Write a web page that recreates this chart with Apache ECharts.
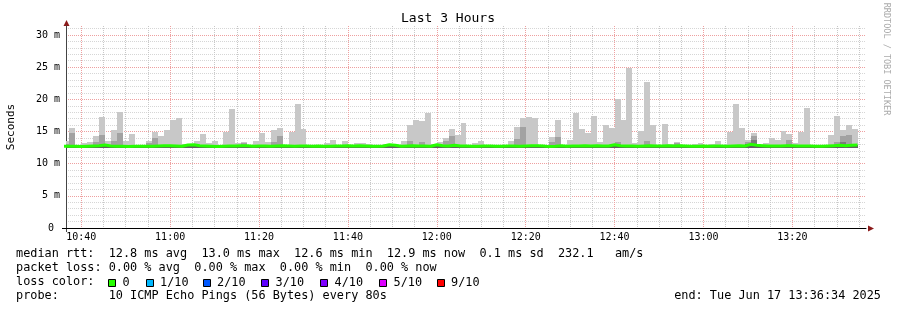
<!DOCTYPE html>
<html><head><meta charset="utf-8">
<script src="https://cdn.jsdelivr.net/npm/echarts@6/dist/echarts.min.js"></script>
<style>html,body{margin:0;padding:0;background:#fff}#c{width:897px;height:310px}</style>
</head><body><div id="c"></div>
<script>
// ---- time layout (seconds since midnight) ----
const viewStartTime = '10:36:34';
const viewEndTime = '13:36:34';
const firstBarStart = '10:36:00';
const barStepSec = 80;
const timeLabels = ['10:40','11:00','11:20','11:40','12:00','12:20','12:40','13:00','13:20'];
const yTickValues = [0, 5, 10, 15, 20, 25, 30];
const yTickLabels = ['0 ', '5 m', '10 m', '15 m', '20 m', '25 m', '30 m'];

// ---- data (ms), one value per 80 s bucket ----
const medianRtt = [
 12.7,12.7,12.65,12.7,12.75,12.8,12.9,12.75,12.7,12.7,
 12.65,12.7,12.7,12.7,12.7,12.75,12.8,12.8,12.75,12.7,
 12.9,12.95,12.8,12.75,12.7,12.65,12.7,12.75,12.75,12.8,
 12.8,12.7,12.75,12.75,12.7,12.75,12.8,12.75,12.7,12.75,
 12.75,12.7,12.75,12.7,12.7,12.75,12.75,12.8,12.75,12.8,
 12.75,12.7,12.7,12.75,12.95,12.85,12.7,12.75,12.8,12.75,
 12.75,12.7,12.95,12.8,12.75,12.85,12.75,12.75,12.7,12.7,
 12.75,12.75,12.7,12.7,12.75,12.75,12.7,12.75,12.8,12.8,
 12.75,12.65,12.7,12.8,12.7,12.75,12.75,12.8,12.75,12.8,
 12.75,12.75,12.95,12.8,12.75,12.75,12.7,12.75,12.8,12.75,
 12.75,12.8,12.75,12.8,12.75,12.7,12.7,12.75,12.7,12.75,
 12.75,12.7,12.75,12.8,12.75,13.0,12.85,12.8,12.75,12.75,
 12.75,12.8,12.8,12.75,12.75,12.75,12.7,12.7,12.75,12.8,
 12.85,12.8,12.85,12.9
];
const smokeMax = [
 13.6,15.5,12.9,13.2,13.4,14.3,17.3,13.5,15.2,18.0,
 13.6,14.6,12.9,12.9,13.5,14.9,14.3,15.2,16.8,17.1,
 13.0,13.0,13.5,14.6,13.2,13.5,12.9,14.9,18.5,13.2,
 13.3,12.9,13.5,14.8,13.4,15.2,15.5,12.9,15.0,19.3,
 15.4,12.9,12.9,12.9,13.2,13.7,12.9,13.5,12.9,13.2,
 13.2,13.0,12.9,12.9,13.1,13.0,12.9,13.5,16.0,16.8,
 16.6,17.9,13.0,13.4,14.0,15.4,14.5,16.3,12.9,13.2,
 13.5,12.9,12.9,12.9,12.9,13.5,15.7,17.1,17.2,17.1,
 12.9,12.9,14.1,16.8,12.9,13.7,17.9,15.4,14.8,17.4,
 13.4,16.0,15.5,20.1,16.8,24.9,13.2,15.1,22.7,16.0,
 12.9,16.2,13.0,13.4,12.9,12.9,13.0,13.2,12.9,13.0,
 13.5,12.9,14.9,19.3,15.5,13.7,14.8,12.9,13.2,14.0,
 13.7,15.1,14.6,13.2,14.9,18.7,12.9,12.9,12.9,14.5,
 17.4,15.2,16.0,15.4
];
const N = null;
const smokeMid = [
 13.1,14.7,N,N,N,13.4,14.5,N,13.5,14.8,
 N,N,N,N,13.2,14.0,N,N,N,N,
 N,N,N,N,N,N,N,N,N,N,
 13.2,N,N,N,N,13.4,14.3,N,N,N,
 N,N,N,N,N,N,N,N,N,N,
 N,N,N,N,N,N,N,N,13.5,N,
 13.4,N,N,N,13.5,14.3,N,N,N,N,
 N,N,N,N,N,N,13.8,15.7,N,N,
 N,N,13.4,14.1,N,N,N,N,N,N,
 N,N,N,13.4,N,N,N,N,13.5,N,
 N,N,N,13.2,N,N,N,N,N,N,
 N,N,N,N,N,13.3,14.3,N,N,N,
 N,N,13.7,N,N,N,N,N,N,N,
 13.4,14.3,14.5,N
];
const smokeCore = [
 N,N,N,N,N,N,N,N,N,N, N,N,N,N,N,N,N,N,N,N, N,N,N,N,N,N,N,N,N,N,
 N,N,N,N,N,N,N,N,N,N, N,N,N,N,N,N,N,N,N,N, N,N,N,N,N,N,N,N,N,N,
 N,N,N,N,N,N,N,N,N,N, N,N,N,N,N,N,N,N,N,N, N,N,N,N,N,N,N,N,N,N,
 N,N,N,N,N,N,N,N,N,N, N,N,N,N,N,N,N,N,N,N, N,N,N,N,N,13.1,13.7,N,N,N,
 N,N,N,N,N,N,N,N,N,N, N,13.4,N,N
];
const smokeMin = [
 12.5,12.5,12.5,12.5,12.5,12.38,12.38,12.5,12.5,12.5,
 12.5,12.5,12.5,12.5,12.5,12.5,12.5,12.5,12.5,12.38,
 12.5,12.5,12.5,12.5,12.5,12.5,12.5,12.5,12.5,12.5,
 12.5,12.5,12.5,12.5,12.5,12.5,12.5,12.5,12.5,12.5,
 12.5,12.38,12.5,12.5,12.5,12.5,12.5,12.5,12.5,12.5,
 12.5,12.38,12.5,12.5,12.5,12.5,12.5,12.5,12.5,12.5,
 12.5,12.5,12.5,12.5,12.5,12.5,12.5,12.38,12.5,12.5,
 12.5,12.5,12.5,12.5,12.5,12.5,12.5,12.5,12.5,12.38,
 12.5,12.5,12.5,12.5,12.5,12.5,12.5,12.5,12.5,12.5,
 12.5,12.5,12.5,12.5,12.5,12.5,12.38,12.5,12.5,12.5,
 12.5,12.5,12.5,12.5,12.5,12.5,12.5,12.5,12.38,12.5,
 12.5,12.5,12.5,12.5,12.5,12.5,12.5,12.5,12.38,12.5,
 12.5,12.5,12.38,12.5,12.5,12.5,12.5,12.5,12.5,12.5,
 12.5,12.5,12.5,12.5
];

// ---- legend texts ----
const legendRtt = 'median rtt:  12.8 ms avg  13.0 ms max  12.6 ms min  12.9 ms now  0.1 ms sd  232.1   am/s';
const legendLoss = 'packet loss: 0.00 % avg  0.00 % max  0.00 % min  0.00 % now';
const legendLossColorTitle = 'loss color:';
const lossLabels = ['0', '1/10', '2/10', '3/10', '4/10', '5/10', '9/10'];
const lossColors = ['#26ff00', '#00b8ff', '#0059ff', '#5e00ff', '#7e00ff', '#dd00ff', '#ff0000'];
const legendProbe = 'probe:       10 ICMP Echo Pings (56 Bytes) every 80s';
const legendEnd = 'end: Tue Jun 17 13:36:34 2025';
const chartTitle = 'Last 3 Hours';
const yAxisTitle = 'Seconds';
const watermark = 'RRDTOOL / TOBI OETIKER';

// ---- build ----
function toSec(s) { const p = s.split(':').map(Number); return p[0]*3600 + p[1]*60 + (p[2] || 0); }
function fmt(v) { const h = Math.floor(v/3600), m = Math.floor((v%3600)/60); return String(h).padStart(2,'0') + ':' + String(m).padStart(2,'0'); }
const t0 = toSec(viewStartTime), t1 = toSec(viewEndTime), b0 = toSec(firstBarStart);
const majorVals = timeLabels.map(toSec);
const minorVals = [];
for (let v = Math.ceil(t0/300)*300; v <= t1; v += 300) if (majorVals.indexOf(v) < 0) minorVals.push(v);
const starts = medianRtt.map((_, i) => b0 + i*barStepSec);

function band(lowArr, highArr) {
  const out = [];
  for (let i = 0; i < highArr.length; i++) {
    if (highArr[i] == null || lowArr[i] == null) continue;
    out.push([starts[i], starts[i] + barStepSec, lowArr[i], highArr[i]]);
  }
  return out;
}
function bandSeries(name, data, color, z) {
  return {
    type: 'custom', name, data, z, silent: true, clip: true,
    encode: { x: [0, 1], y: [2, 3] },
    renderItem(params, api) {
      const a = api.coord([api.value(0), api.value(3)]);
      const b = api.coord([api.value(1), api.value(2)]);
      const x0 = Math.round(a[0]), x1 = Math.round(b[0]);
      const y0 = Math.round(a[1]), y1 = Math.round(b[1]);
      const cs = params.coordSys;
      const shape = echarts.graphic.clipRectByRect(
        { x: x0, y: y0, width: x1 - x0, height: y1 - y0 },
        { x: cs.x, y: cs.y, width: cs.width, height: cs.height });
      if (!shape) return null;
      return { type: 'rect', shape, style: { fill: color } };
    }
  };
}
const medLine = medianRtt.map((v, i) => [starts[i], v]);
medLine.push([starts[starts.length-1] + barStepSec, medianRtt[medianRtt.length-1]]);

const MONO = '"DejaVu Sans Mono", monospace';
const LF = '11.85px ' + MONO;
const gridGrayH = { color: '#d6d6d6', type: [1, 1], width: 1 };
const gridGrayV = { color: '#c8c8c8', type: [1, 1], width: 1 };
const gridRed = { color: '#eea0a0', type: [1, 1], width: 1 };

const graphics = [];
graphics.push({ type: 'text', x: 448, y: 19, style: { text: chartTitle, font: '13px ' + MONO, fill: '#000', textAlign: 'center', textVerticalAlign: 'middle' } });
graphics.push({ type: 'text', x: 11, y: 127, rotation: Math.PI/2, style: { text: yAxisTitle, font: '11px ' + MONO, fill: '#000', textAlign: 'center', textVerticalAlign: 'middle' } });
graphics.push({ type: 'text', x: 886, y: 59, rotation: -Math.PI/2, style: { text: watermark, font: '8.5px ' + MONO, fill: '#aaaaaa', textAlign: 'center', textVerticalAlign: 'middle' } });
const lines = [[legendRtt, 254], [legendLoss, 268], [legendLossColorTitle, 282], [legendProbe, 296]];
lines.forEach(([t, y]) => graphics.push({ type: 'text', x: 16, y, style: { text: t, font: LF, fill: '#000', textAlign: 'left', textVerticalAlign: 'middle' } }));
graphics.push({ type: 'text', x: 881, y: 296, style: { text: legendEnd, font: LF, fill: '#000', textAlign: 'right', textVerticalAlign: 'middle' } });
const boxX = [108, 145.5, 202.5, 261, 320, 379, 436.5];
lossLabels.forEach((lab, i) => {
  graphics.push({ type: 'rect', shape: { x: Math.round(boxX[i]) + 0.5, y: 279.5, width: 7, height: 7 }, style: { fill: lossColors[i], stroke: '#000', lineWidth: 1 } });
  graphics.push({ type: 'text', x: boxX[i] + 14.5, y: 282.5, style: { text: lab, font: LF, fill: '#000', textAlign: 'left', textVerticalAlign: 'middle' } });
});
// axis arrows and small axis extensions
graphics.push({ type: 'polygon', shape: { points: [[66.5, 20], [63.5, 26], [69.5, 26]] }, style: { fill: '#8b1a1a' } });
graphics.push({ type: 'polygon', shape: { points: [[874, 228.5], [868, 225.5], [868, 231.5]] }, style: { fill: '#8b1a1a' } });
graphics.push({ type: 'line', shape: { x1: 62, y1: 228.5, x2: 67, y2: 228.5 }, style: { stroke: '#000', lineWidth: 1 } });
graphics.push({ type: 'line', shape: { x1: 66.5, y1: 228, x2: 66.5, y2: 232 }, style: { stroke: '#444', lineWidth: 1 } });

const chart = echarts.init(document.getElementById('c'), null, { renderer: 'canvas' });
chart.setOption({
  animation: false,
  backgroundColor: '#fff',
  grid: { left: 66, right: 31, top: 26, bottom: 82, containLabel: false },
  xAxis: [
    { type: 'value', min: t0, max: t1, position: 'bottom',
      axisLine: { show: true, onZero: false, lineStyle: { color: '#000', width: 1 } },
      axisTick: { show: false, customValues: majorVals },
      axisLabel: { customValues: majorVals, formatter: fmt, fontFamily: MONO, fontSize: 10, color: '#000', margin: 4 },
      splitLine: { show: true, lineStyle: gridRed }, z: 1 },
    { type: 'value', min: t0, max: t1, position: 'bottom',
      axisLine: { show: false }, axisLabel: { show: false },
      axisTick: { show: false, customValues: minorVals },
      splitLine: { show: true, lineStyle: gridGrayV }, z: 0 }
  ],
  yAxis: {
    type: 'value', min: 0, max: 31.4, interval: 5,
    axisLine: { show: true, lineStyle: { color: '#444', width: 1 } },
    axisTick: { show: false, customValues: yTickValues },
    axisLabel: { customValues: yTickValues, formatter: v => yTickLabels[yTickValues.indexOf(v)], fontFamily: MONO, fontSize: 10, color: '#000', margin: 6 },
    splitLine: { show: true, lineStyle: gridRed },
    minorTick: { show: false, splitNumber: 5 },
    minorSplitLine: { show: true, lineStyle: gridGrayH }
  },
  series: [
    bandSeries('smoke', band(smokeMin, smokeMax), '#c8c8c8', 2),
    bandSeries('smoke2', band(smokeMin, smokeMid), '#a2a2a2', 3),
    bandSeries('smoke3', band(smokeMin, smokeCore), '#7a7a7a', 4),
    bandSeries('low', band(smokeMin, medianRtt), '#606060', 5),
    { type: 'line', name: 'median', data: medLine, step: 'end', symbol: 'none', z: 6, silent: true,
      lineStyle: { color: '#26ff00', width: 3 }, clip: true }
  ],
  graphic: graphics
});
</script></body></html>
